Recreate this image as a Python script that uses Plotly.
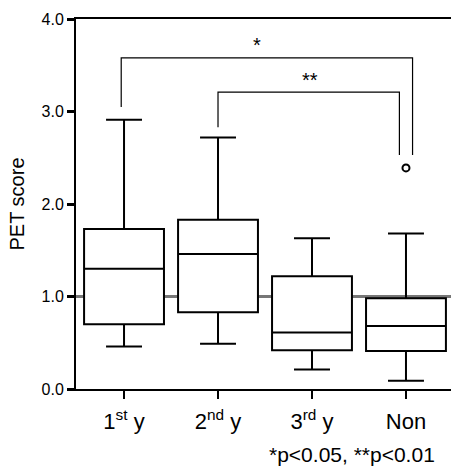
import plotly.graph_objects as go

categories = ["1<sup>st</sup> y", "2<sup>nd</sup> y", "3<sup>rd</sup> y", "Non"]
positions = [0, 1, 2, 3]
lower_whisker = [0.46, 0.49, 0.21, 0.09]
q1 = [0.70, 0.83, 0.42, 0.41]
median = [1.30, 1.46, 0.61, 0.68]
q3 = [1.73, 1.83, 1.22, 0.98]
upper_whisker = [2.91, 2.72, 1.63, 1.68]
outlier_x = [3]
outlier_y = [2.39]

bracket1_x = [-0.03, -0.03, 3.07, 3.07]
bracket1_y = [3.05, 3.58, 3.58, 2.53]
bracket2_x = [1.0, 1.0, 2.93, 2.93]
bracket2_y = [2.83, 3.21, 3.21, 2.53]

font_family = "Arial, Liberation Sans, sans-serif"

fig = go.Figure()
fig.add_trace(go.Box(
    x=positions, q1=q1, median=median, q3=q3,
    lowerfence=lower_whisker, upperfence=upper_whisker,
    width=0.85, whiskerwidth=0.45,
    fillcolor="white", line=dict(color="black", width=2),
    boxpoints=False, showlegend=False, hoverinfo="skip",
))
fig.add_trace(go.Scatter(
    x=outlier_x, y=outlier_y, mode="markers",
    marker=dict(symbol="circle-open", size=7, color="black", line=dict(width=2, color="black")),
    showlegend=False,
))
for bx, by in [(bracket1_x, bracket1_y), (bracket2_x, bracket2_y)]:
    fig.add_trace(go.Scatter(x=bx, y=by, mode="lines",
                             line=dict(color="black", width=1.2), showlegend=False))

fig.add_shape(type="line", xref="paper", yref="y", x0=0, x1=1, y0=1.0, y1=1.0,
              line=dict(color="#777777", width=3), layer="below")

fig.add_annotation(x=1.41, y=3.72, text="*", showarrow=False,
                   font=dict(size=20, color="black", family=font_family))
fig.add_annotation(x=1.98, y=3.34, text="**", showarrow=False,
                   font=dict(size=20, color="black", family=font_family))
fig.add_annotation(xref="paper", yref="paper", x=0.963, y=-0.178, xanchor="right", yanchor="middle",
                   text="*p<0.05, **p<0.01", showarrow=False,
                   font=dict(size=21, color="black", family=font_family))

fig.update_layout(
    width=451, height=471,
    margin=dict(l=76, r=0, t=19, b=82),
    paper_bgcolor="white", plot_bgcolor="white",
    font=dict(family=font_family, color="black"),
    xaxis=dict(
        range=[-0.511, 3.479], tickvals=positions, ticktext=categories,
        showgrid=False, zeroline=False, showline=True, linecolor="black", linewidth=2,
        mirror=True, ticks="outside", ticklen=8, tickwidth=2, tickcolor="black",
        ticklabelstandoff=4,
        tickfont=dict(size=22, color="black"),
    ),
    yaxis=dict(
        range=[0, 4], tickvals=[0, 1, 2, 3, 4], tickformat=".1f",
        showgrid=False, zeroline=False, showline=True, linecolor="black", linewidth=2,
        ticks="outside", ticklen=7, tickwidth=3, tickcolor="black",
        tickfont=dict(size=16, color="black"),
        title=dict(text="PET score", font=dict(size=20, color="black"), standoff=12),
    ),
)

fig.write_html("out.html")
